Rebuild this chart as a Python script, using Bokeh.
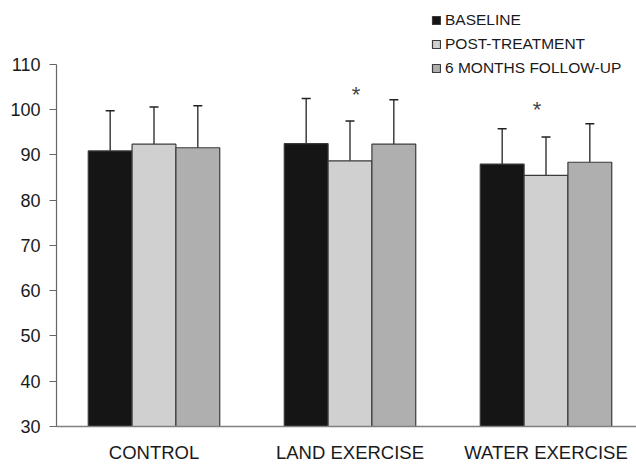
from bokeh.plotting import figure
from bokeh.models import Range1d, FixedTicker, Legend, LegendItem, ColumnDataSource
from bokeh.core.properties import value
from bokeh.embed import file_html
from bokeh.resources import INLINE

# ---- data ----
groups = ["CONTROL", "LAND EXERCISE", "WATER EXERCISE"]
series_names = ["BASELINE", "POST-TREATMENT", "6 MONTHS FOLLOW-UP"]
baseline = [90.9, 92.5, 88.0]
post_treatment = [92.4, 88.7, 85.5]
follow_up = [91.6, 92.4, 88.4]
baseline_sd = [8.9, 10.0, 7.8]
post_treatment_sd = [8.2, 8.8, 8.5]
follow_up_sd = [9.3, 9.8, 8.5]
post_significant = [False, True, True]
y_ticks = [30, 40, 50, 60, 70, 80, 90, 100, 110]

# ---- style ----
FONT = "Liberation Sans"
TEXT = "#1a1a1a"
fills = ["#151515", "#d0d0d0", "#aeafae"]
BAR_W = 0.2236
offsets = [-1, 0, 1]
Y0, Y1 = 30, 110

W, H = 636, 465
p = figure(width=W, height=H, output_backend="svg", toolbar_location=None,
           x_range=Range1d(-0.4974, 2.4617), y_range=Range1d(Y0, 124.14),
           min_border_left=56, min_border_right=0, min_border_top=0,
           min_border_bottom=38)
p.outline_line_color = None
p.xgrid.grid_line_color = None
p.ygrid.grid_line_color = None
p.background_fill_color = "white"

all_vals = [baseline, post_treatment, follow_up]
all_sd = [baseline_sd, post_treatment_sd, follow_up_sd]
renderers = []
for k, (vals, sds) in enumerate(zip(all_vals, all_sd)):
    xs = [i + offsets[k] * BAR_W for i in range(len(groups))]
    tops = [v + s for v, s in zip(vals, sds)]
    src = ColumnDataSource(dict(x=xs, top=vals, err=tops,
                                cl=[x - 0.023 for x in xs], cr=[x + 0.023 for x in xs]))
    p.segment(x0="x", y0="top", x1="x", y1="err", source=src,
              line_color="#222222", line_width=1.3)
    p.segment(x0="cl", y0="err", x1="cr", y1="err", source=src,
              line_color="#222222", line_width=1.5)
    r = p.vbar(x="x", top="top", bottom=Y0, width=BAR_W, source=src,
               fill_color=fills[k], line_color="#3a3a3a", line_width=1.2)
    renderers.append(r)

# significance asterisks above post-treatment bars
ast_x, ast_y = [], []
for i, sig in enumerate(post_significant):
    if sig:
        ast_x.append(i)
        ast_y.append(post_treatment[i] + post_treatment_sd[i])
p.text(x=ast_x, y=ast_y, text=["*"] * len(ast_x), x_offset=[6, -9][:len(ast_x)],
       y_offset=-27, text_align="center", text_baseline="alphabetic",
       text_font=value(FONT), text_font_size="22px", text_color="#444444")

# axes
yax = p.yaxis[0]
yax.ticker = FixedTicker(ticks=y_ticks)
yax.bounds = (Y0, Y1)
yax.axis_line_color = "#666666"
yax.axis_line_width = 1.2
yax.major_tick_line_color = "#666666"
yax.major_tick_out = 7
yax.major_tick_in = 0
yax.minor_tick_line_color = None
yax.major_label_standoff = 9
yax.major_label_text_font = FONT
yax.major_label_text_font_size = "18px"
yax.major_label_text_color = TEXT

xax = p.xaxis[0]
xax.ticker = FixedTicker(ticks=list(range(len(groups))))
xax.major_label_overrides = {i: g for i, g in enumerate(groups)}
xax.axis_line_color = "#808080"
xax.axis_line_width = 1.5
xax.major_tick_line_color = None
xax.major_tick_out = 0
xax.major_tick_in = 0
xax.minor_tick_line_color = None
xax.major_label_standoff = 15
xax.major_label_text_font = FONT
xax.major_label_text_font_size = "18.5px"
xax.major_label_text_color = TEXT

legend = Legend(items=[LegendItem(label=n, renderers=[r]) for n, r in zip(series_names, renderers)],
                location=(375, 348), orientation="vertical",
                glyph_width=10, glyph_height=10, label_standoff=4,
                label_height=20, spacing=4, padding=0, margin=0,
                label_text_font=FONT, label_text_font_size="15.5px",
                label_text_color=TEXT, border_line_color=None,
                background_fill_alpha=0)
p.add_layout(legend, "center")

open("out.html", "w").write(file_html(p, INLINE))
